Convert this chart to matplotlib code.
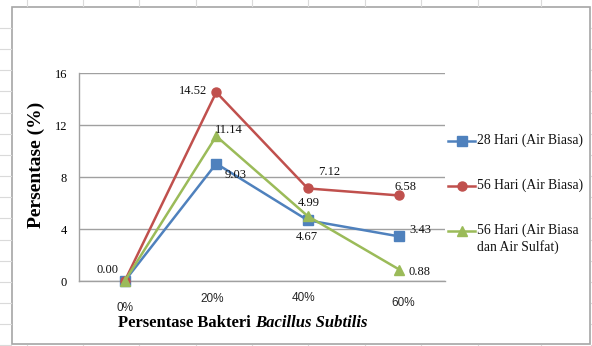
import matplotlib
matplotlib.use("Agg")
import matplotlib.pyplot as plt
from matplotlib.lines import Line2D
from matplotlib.patches import Rectangle

# ---- data ----
categories = ["0%", "20%", "40%", "60%"]
hari28_biasa = [0.00, 9.03, 4.67, 3.43]
hari56_biasa = [0.00, 14.52, 7.12, 6.58]
hari56_sulfat = [0.00, 11.14, 4.99, 0.88]
series_names = ["28 Hari (Air Biasa)", "56 Hari (Air Biasa)",
                "56 Hari (Air Biasa\ndan Air Sulfat)"]
y_ticks = [0, 4, 8, 12, 16]

W, H = 592, 346
SERIF = "Liberation Serif"
SANS = "Liberation Sans"

fig = plt.figure(figsize=(W / 100, H / 100), dpi=100)
fig.patch.set_facecolor("white")


def fx(px):
    return px / W


def fy(py):
    return 1 - py / H


# spreadsheet cell grid around the chart object
cell_col = "#DADADA"
for yy in [28 + 21.15 * k for k in range(16)]:
    fig.add_artist(Line2D([fx(0), fx(11)], [fy(yy), fy(yy)], color=cell_col, lw=0.8))
    fig.add_artist(Line2D([fx(591), fx(592)], [fy(yy), fy(yy)], color=cell_col, lw=0.8))
for xx in [27, 83, 139, 196, 252, 308, 365, 421, 478, 541]:
    fig.add_artist(Line2D([fx(xx), fx(xx)], [fy(0), fy(6)], color=cell_col, lw=0.8))
    fig.add_artist(Line2D([fx(xx), fx(xx)], [fy(345), fy(346)], color=cell_col, lw=0.8))

# chart object border
fig.add_artist(Rectangle((fx(12), fy(344)), fx(590) - fx(12), fy(7) - fy(344),
                         transform=fig.transFigure, fill=False,
                         edgecolor="#A6A6A6", lw=1.2))

ax = fig.add_axes([fx(79), fy(281), (445 - 79) / W, (281 - 73) / H])
ax.set_facecolor("none")

colors = ["#4F81BD", "#C0504D", "#9BBB59"]
markers = ["s", "o", "^"]
msizes = [6.5, 6.5, 7.5]
data = [hari28_biasa, hari56_biasa, hari56_sulfat]
xs = list(range(len(categories)))

lines = []
for vals, c, m, ms, name in zip(data, colors, markers, msizes, series_names):
    ln, = ax.plot(xs, vals, color=c, lw=1.8, marker=m, ms=ms,
                  markerfacecolor=c, markeredgecolor=c, clip_on=False,
                  label=name, zorder=3)
    lines.append(ln)

ax.set_xlim(-0.5, 3.5)
ax.set_ylim(0, 16)
ax.set_yticks(y_ticks)
ax.set_yticklabels([str(t) for t in y_ticks], fontfamily=SERIF, fontsize=9)
ax.set_xticks([])
ax.tick_params(axis="y", length=0, pad=8.5)
ax.yaxis.grid(True, color="#A0A0A0", lw=1.0)
ax.set_axisbelow(True)
for s in ["top", "right"]:
    ax.spines[s].set_visible(False)
for s in ["left", "bottom"]:
    ax.spines[s].set_color("#A0A0A0")
    ax.spines[s].set_linewidth(1.0)

# staggered category labels
cat_y = [-0.132, -0.088, -0.080, -0.104]
cat_dx = [0, -0.04, -0.05, 0.04]
for x, lab, yy, dx in zip(xs, categories, cat_y, cat_dx):
    ax.text(x + dx, yy, lab, transform=ax.get_xaxis_transform(), ha="center",
            va="center", fontfamily=SANS, fontsize=8.5, color="#262626")

# data labels (offsets in pixels from each point)
label_offsets = [
    [(-17, 11), (19, -11), (-1, -17), (21, 6)],
    [None, (-23, 1), (21, 16), (6, 8)],
    [None, (13, 6), (1, 13), (20, -2)],
]
for vals, offs in zip(data, label_offsets):
    for x, v, off in zip(xs, vals, offs):
        if off is None:
            continue
        ax.annotate(f"{v:.2f}", (x, v), xytext=off, textcoords="offset pixels",
                    ha="center", va="center", fontfamily=SERIF, fontsize=9,
                    color="#111111", zorder=5, annotation_clip=False)

# axis titles
fig.text(fx(36), fy(165), "Persentase (%)", rotation=90, ha="center", va="center",
         fontfamily=SERIF, fontweight="bold", fontsize=14)

fig.canvas.draw()
r = fig.canvas.get_renderer()
t1 = fig.text(0, fy(323), "Persentase Bakteri ", ha="left", va="center",
              fontfamily=SERIF, fontweight="bold", fontsize=12)
t2 = fig.text(0, fy(323), "Bacillus Subtilis", ha="left", va="center",
              fontfamily=SERIF, fontweight="bold", fontstyle="italic", fontsize=12)
w1 = t1.get_window_extent(r).width
w2 = t2.get_window_extent(r).width
x0 = 243 - (w1 + w2) / 2
t1.set_x(fx(x0))
t2.set_x(fx(x0 + w1))

# legend
leg_rows = [141, 186, 231]
for ln, yy, name in zip(lines, leg_rows, series_names):
    fig.add_artist(Line2D([fx(448), fx(475)], [fy(yy), fy(yy)], color=ln.get_color(),
                          lw=1.8))
    fig.add_artist(Line2D([fx(461.5)], [fy(yy)], color=ln.get_color(),
                          marker=ln.get_marker(), ms=ln.get_markersize(), lw=0))
    fig.text(fx(477), fy(yy - 7.5), name, ha="left", va="top", fontfamily=SERIF,
             fontsize=9.8, color="#111111", linespacing=1.32)

fig.savefig("out.png", dpi=100)
